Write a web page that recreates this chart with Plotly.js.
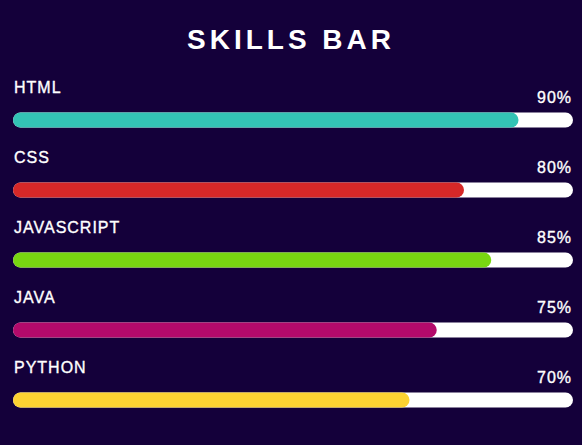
<!DOCTYPE html>
<html>
<head>
<meta charset="utf-8">
<script src="https://cdn.plot.ly/plotly-3.0.1.min.js"></script>
<style>
  html, body { margin: 0; padding: 0; background: #14003a; }
  #chart { width: 582px; height: 445px; }
  .scatterlayer .js-line { stroke-linecap: round !important; }
  .annotation-text { letter-spacing: 1px; stroke: #ffffff; stroke-width: 0.35px; }
  .gtitle { letter-spacing: 4px; }
</style>
</head>
<body>
<div id="chart"></div>
<script>
// ---- data ----
const skills = ["HTML", "CSS", "JAVASCRIPT", "JAVA", "PYTHON"];
const levels = [90, 80, 85, 75, 70];
const fillColors = ["#33c3b5", "#d62828", "#78d611", "#b30a6b", "#fdd232"];
const trackMax = 100;
const chartTitle = "SKILLS BAR";

const BG = "#14003a";
const BAR_W = 15;               // bar thickness in px
const ML = 13, MR = 9;          // margins
const plotW = 582 - ML - MR;
const cap = BAR_W / 2;
const pad = cap / (plotW - 2 * cap) * trackMax;

const traces = [];
skills.forEach(function (s, i) {
  traces.push({
    type: "scatter", mode: "lines",
    x: [0, trackMax], y: [s, s],
    line: { color: "#ffffff", width: BAR_W },
    hoverinfo: "skip", showlegend: false
  });
});
skills.forEach(function (s, i) {
  traces.push({
    type: "scatter", mode: "lines",
    x: [0, levels[i]], y: [s, s],
    line: { color: fillColors[i], width: BAR_W },
    hoverinfo: "skip", showlegend: false
  });
});

const FONT = "Liberation Sans, Arial, sans-serif";
const annotations = [];
skills.forEach(function (s, i) {
  annotations.push({
    xref: "paper", yref: "y", x: 0, y: s,
    xanchor: "left", yanchor: "middle",
    xshift: -1, yshift: 33,
    text: s, showarrow: false,
    font: { family: FONT, size: 16, color: "#ffffff" }
  });
  annotations.push({
    xref: "paper", yref: "y", x: 1, y: s,
    xanchor: "right", yanchor: "middle",
    xshift: 1, yshift: 23,
    text: levels[i] + "%", showarrow: false,
    font: { family: FONT, size: 16, color: "#ffffff" }
  });
});

const layout = {
  width: 582, height: 445,
  paper_bgcolor: BG, plot_bgcolor: BG,
  margin: { l: ML, r: MR, t: 85, b: 10 },
  title: {
    text: chartTitle,
    x: 0.5, xref: "container", xanchor: "center",
    y: 1 - 39 / 445, yref: "container", yanchor: "middle",
    font: { family: FONT, size: 28, weight: 700, color: "#ffffff" }
  },
  xaxis: { range: [-pad, trackMax + pad], visible: false, fixedrange: true },
  yaxis: { type: "category", categoryarray: skills, range: [4.5, -0.5], visible: false, fixedrange: true },
  annotations: annotations,
  showlegend: false,
  hovermode: false
};

Plotly.newPlot("chart", traces, layout, { displayModeBar: false, staticPlot: true });
</script>
</body>
</html>
